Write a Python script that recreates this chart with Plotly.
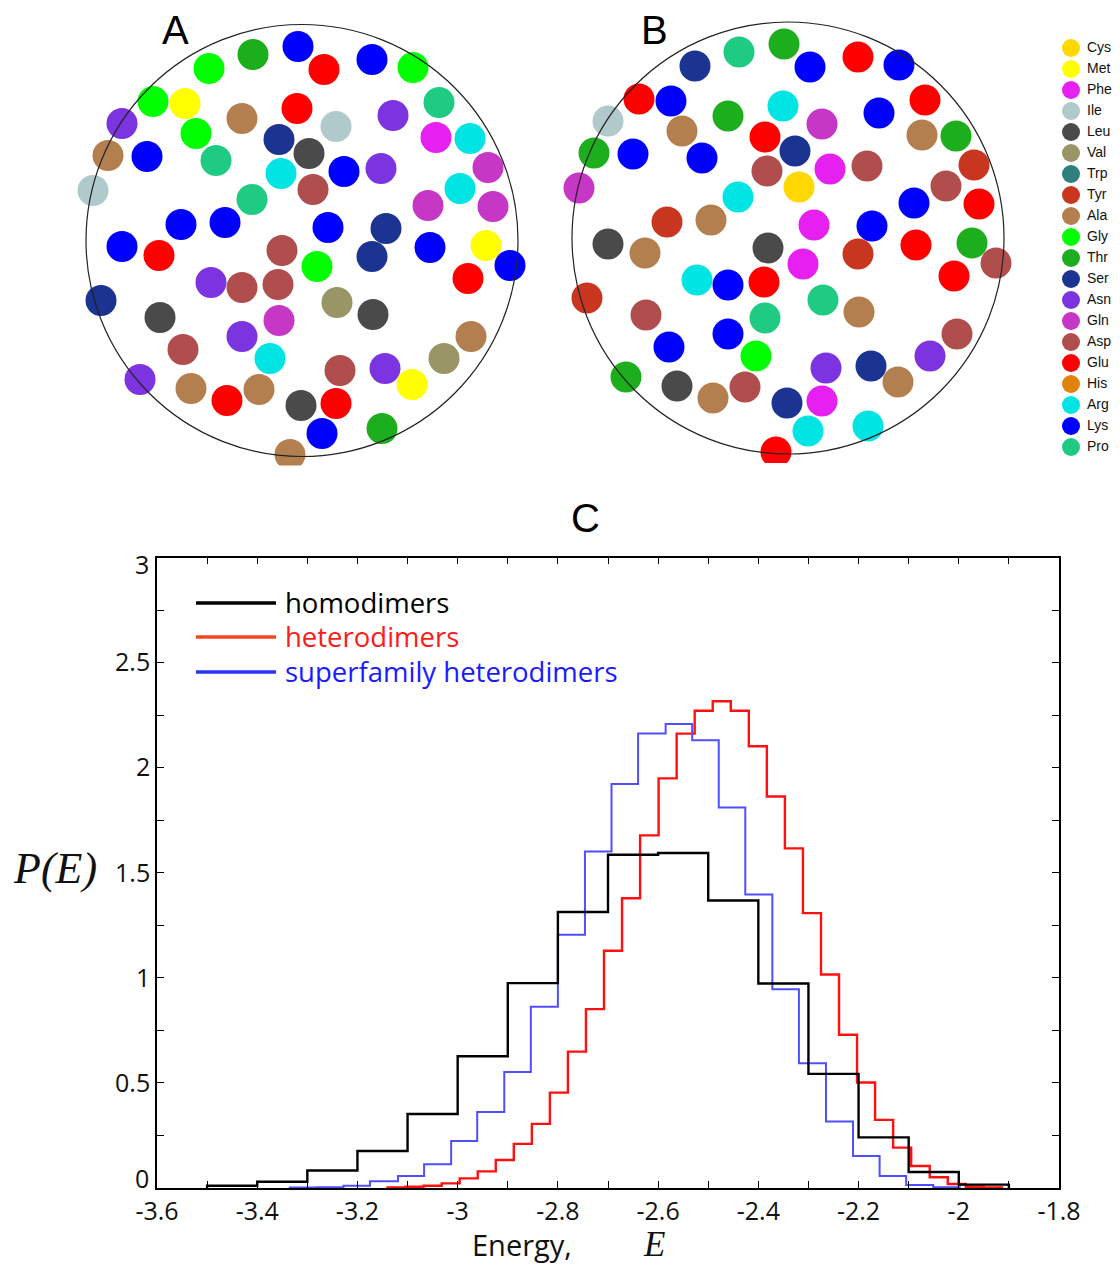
import plotly.graph_objects as go

W, H = 1120, 1279

# ---------------- Data ----------------
# Residue positions on the interface patch (shared by A and B), relative to patch centre
pos_x = [-93, -49, -4, 22, 70, 111, -149, -117, -180, -60, -5, 34, 91, 137, -106, -194, -155, -86, -23, 7,
         134, 168, -209, -21, 11, 42, 79, 186, 158, -50, 126, 191, -121, -77, 26, 84, -180, -143, -20, 15,
         70, 128, 184, 208, 166, -91, -60, -24, -201, 35, -142, 71, -23, -119, -60, -32, 169, 142, 38, 83,
         110, -162, -111, -75, -43, -1, 34, 20, 80, -12]
pos_y = [172, 186, 194, 171, 181, 173, 139, 137, 117, 122, 132, 114, 125, 138, 107, 85, 84, 80, 101, 87,
         103, 102, 50, 67, 51, 69, 72, 73, 52, 41, 35, 34, 16, 18, 13, 12, -6, -15, -10, -26,
         -16, -7, -5, -25, -38, -42, -47, -44, -60, -62, -77, -74, -80, -109, -96, -118, -96, -118, -130, -128,
         -144, -139, -148, -160, -149, -165, -163, -193, -188, -214]
residues_A = ["Gly", "Thr", "Lys", "Glu", "Lys", "Gly", "Gly", "Met", "Asn", "Ala", "Glu", "Ile", "Asn", "Pro",
              "Gly", "Ala", "Lys", "Pro", "Ser", "Leu", "Phe", "Arg", "Ile", "Arg", "Asp", "Lys", "Asn", "Gln",
              "Arg", "Pro", "Gln", "Gln", "Lys", "Lys", "Lys", "Ser", "Lys", "Glu", "Asp", "Gly", "Ser", "Lys",
              "Met", "Lys", "Glu", "Asn", "Asp", "Asp", "Ser", "Val", "Leu", "Leu", "Gln", "Asp", "Asn", "Arg",
              "Ala", "Val", "Asp", "Asn", "Met", "Asn", "Ala", "Glu", "Ala", "Leu", "Glu", "Lys", "Thr", "Ala"]
residues_B = ["Ser", "Pro", "Thr", "Lys", "Glu", "Lys", "Glu", "Lys", "Ile", "Thr", "Arg", "Gln", "Lys", "Glu",
              "Ala", "Thr", "Lys", "Lys", "Glu", "Ser", "Ala", "Thr", "Gln", "Asp", "Cys", "Phe", "Asp", "Tyr",
              "Asp", "Arg", "Lys", "Glu", "Tyr", "Ala", "Phe", "Lys", "Leu", "Ala", "Leu", "Phe", "Tyr", "Glu",
              "Thr", "Asp", "Glu", "Arg", "Lys", "Glu", "Tyr", "Pro", "Asp", "Ala", "Pro", "Lys", "Lys", "Gly",
              "Asp", "Asn", "Asn", "Ser", "Ala", "Thr", "Leu", "Ala", "Asp", "Ser", "Phe", "Arg", "Arg", "Glu"]
patch_radius = 216

legend_residues = ["Cys", "Met", "Phe", "Ile", "Leu", "Val", "Trp", "Tyr", "Ala", "Gly",
                   "Thr", "Ser", "Asn", "Gln", "Asp", "Glu", "His", "Arg", "Lys", "Pro"]

# Histograms P(E): bin edges and densities
homo_edges = [-3.5, -3.4, -3.3, -3.2, -3.1, -3.0, -2.9, -2.8, -2.7, -2.6, -2.5, -2.4, -2.3, -2.2, -2.1, -2.0, -1.9]
homo_p = [0.011, 0.030, 0.083, 0.176, 0.352, 0.627, 0.975, 1.313, 1.586, 1.594, 1.368, 0.973, 0.543, 0.241, 0.076, 0.016]

hetero_edges = [-3.140, -3.104, -3.068, -3.032, -2.996, -2.960, -2.924, -2.888, -2.852, -2.816, -2.780, -2.744,
                -2.708, -2.672, -2.636, -2.599, -2.563, -2.527, -2.491, -2.455, -2.419, -2.383, -2.347, -2.311,
                -2.275, -2.239, -2.203, -2.167, -2.131, -2.095, -2.058, -2.022, -1.986, -1.950, -1.914]
hetero_p = [0.003, 0.006, 0.011, 0.022, 0.046, 0.079, 0.133, 0.210, 0.305, 0.454, 0.649, 0.851, 1.129, 1.379,
            1.678, 1.949, 2.162, 2.271, 2.316, 2.271, 2.102, 1.863, 1.616, 1.308, 1.016, 0.729, 0.502, 0.324,
            0.192, 0.105, 0.051, 0.019, 0.006, 0.003]

super_edges = [-3.335, -3.282, -3.228, -3.175, -3.119, -3.067, -3.013, -2.961, -2.907, -2.854, -2.800, -2.746,
               -2.693, -2.640, -2.585, -2.532, -2.479, -2.426, -2.372, -2.319, -2.265, -2.211, -2.158, -2.105,
               -2.051, -1.998]
super_p = [0.002, 0.004, 0.011, 0.032, 0.057, 0.113, 0.224, 0.362, 0.552, 0.863, 1.205, 1.601, 1.922, 2.162,
           2.208, 2.130, 1.810, 1.396, 0.946, 0.594, 0.316, 0.152, 0.057, 0.014, 0.003]

series_names = ["homodimers", "heterodimers", "superfamily heterodimers"]

x_tick_vals = [-3.6, -3.4, -3.2, -3.0, -2.8, -2.6, -2.4, -2.2, -2.0, -1.8]
x_tick_text = ["-3.6", "-3.4", "-3.2", "-3", "-2.8", "-2.6", "-2.4", "-2.2", "-2", "-1.8"]
y_tick_vals = [0, 0.5, 1, 1.5, 2, 2.5, 3]
y_tick_text = ["0", "0.5", "1", "1.5", "2", "2.5", "3"]

# ---------------- Styles ----------------
res_colors = {
    "Cys": "#FFD800", "Met": "#FFFF00", "Phe": "#E620F0", "Ile": "#B0C9CA", "Leu": "#4A4A4A",
    "Val": "#9A9566", "Trp": "#2F7F7F", "Tyr": "#C9361F", "Ala": "#B47F4E", "Gly": "#00FF00",
    "Thr": "#1DAE1D", "Ser": "#1B3391", "Asn": "#7C33E0", "Gln": "#C637C6", "Asp": "#B04E4E",
    "Glu": "#FF0000", "His": "#E0820E", "Arg": "#00E4E4", "Lys": "#0000FF", "Pro": "#1FCB82",
}


def dom_x(p0, p1):
    return [p0 / W, p1 / W]


def dom_y(top, bottom):
    return [1 - bottom / H, 1 - top / H]


fig = go.Figure()

# Panels A and B: 1 data unit = 1 px
panelA = dict(cx=302, cy=240.5)
panelB = dict(cx=788, cy=238)
half_w, half_h = 235, 225

for k, (pan, res) in enumerate([(panelA, residues_A), (panelB, residues_B)], start=1):
    xa = "x" if k == 1 else "x2"
    ya = "y" if k == 1 else "y2"
    fig.add_trace(go.Scatter(
        x=pos_x, y=pos_y, mode="markers", xaxis=xa, yaxis=ya, showlegend=False,
        marker=dict(size=31, color=[res_colors[r] for r in res], line=dict(width=0)),
        hovertext=res, hoverinfo="text"))
    fig.add_shape(type="circle", xref=xa, yref=ya, x0=-patch_radius, x1=patch_radius,
                  y0=-patch_radius, y1=patch_radius, line=dict(color="#222222", width=1.2), layer="above")

hidden = dict(visible=False, automargin=False, fixedrange=True)
fig.update_layout(
    xaxis=dict(domain=dom_x(panelA["cx"] - half_w, panelA["cx"] + half_w), range=[-half_w, half_w], **hidden),
    yaxis=dict(domain=dom_y(panelA["cy"] - half_h, panelA["cy"] + half_h), range=[-half_h, half_h], **hidden),
    xaxis2=dict(domain=dom_x(panelB["cx"] - half_w, panelB["cx"] + half_w), range=[-half_w, half_w], **hidden),
    yaxis2=dict(domain=dom_y(panelB["cy"] - half_h, panelB["cy"] + half_h), range=[-half_h, half_h], **hidden),
)

# Residue colour legend (x axis: 1 unit = 1 px, marker centre at 0)
leg_idx = list(range(len(legend_residues)))
fig.add_trace(go.Scatter(
    x=[0] * len(legend_residues), y=leg_idx, mode="markers",
    xaxis="x4", yaxis="y4", showlegend=False,
    marker=dict(size=18, color=[res_colors[r] for r in legend_residues], line=dict(width=0)),
    hoverinfo="skip"))
fig.add_trace(go.Scatter(
    x=[16] * len(legend_residues), y=leg_idx, mode="text",
    xaxis="x4", yaxis="y4", showlegend=False,
    text=legend_residues, textposition="middle right",
    textfont=dict(family="Liberation Sans, Arial", size=14, color="#111111"), hoverinfo="skip"))
fig.update_layout(
    xaxis4=dict(domain=dom_x(1062, 1120), range=[-9, 49], **hidden),
    yaxis4=dict(domain=dom_y(37.5, 457.5), range=[19.5, -0.5], **hidden),
)


# Panel C histograms
def step_xy(edges, p):
    xs = [edges[0]] + list(edges)
    ys = [0] + list(p) + [0]
    return xs, ys


hist_styles = [
    (hetero_edges, hetero_p, "#FF1010", 2.4),
    (super_edges, super_p, "#4F4FFF", 2.0),
    (homo_edges, homo_p, "#000000", 2.4),
]
for edges, p, col, lw in hist_styles:
    xs, ys = step_xy(edges, p)
    fig.add_trace(go.Scatter(x=xs, y=ys, mode="lines", line=dict(color=col, width=lw, shape="hv"),
                             xaxis="x3", yaxis="y3", showlegend=False))

tickfont = dict(family="Open Sans", size=25, color="#111111")
fig.update_layout(
    xaxis3=dict(domain=dom_x(157, 1059), range=[-3.6, -1.8], tickmode="array",
                tickvals=x_tick_vals, ticktext=x_tick_text, tickangle=0,
                ticks="inside", ticklen=7, tickwidth=1.2, tickcolor="black",
                minor=dict(dtick=0.1, tick0=-3.6, ticks="inside", ticklen=7, tickwidth=1.2, tickcolor="black"),
                showline=True, linecolor="black", linewidth=1.6, mirror="ticks", automargin=False,
                showgrid=False, zeroline=False, tickfont=tickfont, anchor="y3", fixedrange=True),
    # interior labels on the axis; the end labels are nudged inward like the original
    yaxis3=dict(domain=dom_y(557.5, 1188), range=[0, 3], tickmode="array",
                tickvals=y_tick_vals[1:-1], ticktext=y_tick_text[1:-1],
                ticks="inside", ticklen=7, tickwidth=1.2, tickcolor="black",
                minor=dict(dtick=0.25, tick0=0, ticks="inside", ticklen=7, tickwidth=1.2, tickcolor="black"),
                showline=True, linecolor="black", linewidth=1.6, mirror="ticks", automargin=False,
                showgrid=False, zeroline=False, tickfont=tickfont, anchor="x3", fixedrange=True),
)
for val, txt, shift in [(y_tick_vals[0], y_tick_text[0], 10), (y_tick_vals[-1], y_tick_text[-1], -6)]:
    fig.add_annotation(text=txt, xref="paper", yref="y3", x=151 / W, y=val, yshift=shift,
                       xanchor="right", yanchor="middle", showarrow=False, font=tickfont)

# Panel C legend (line samples + coloured labels)
leg_rows = [(603, "#000000", "#000000"), (637, "#FF4422", "#FF1A1A"), (672, "#2A35FF", "#1A1AFF")]
for name, (yy, lcol, tcol) in zip(series_names, leg_rows):
    fig.add_shape(type="line", xref="paper", yref="paper", x0=196 / W, x1=276 / W,
                  y0=1 - yy / H, y1=1 - yy / H, line=dict(color=lcol, width=3.5))
    fig.add_annotation(text=name, xref="paper", yref="paper", x=283 / W, y=1 - (yy - 1) / H,
                       xanchor="left", yanchor="middle", showarrow=False,
                       font=dict(family="Open Sans", size=27.5, color=tcol))

# Panel letters and axis titles
for letter, px, py in [("A", 175, 30), ("B", 654, 30), ("C", 585, 518)]:
    fig.add_annotation(text=letter, xref="paper", yref="paper", x=px / W, y=1 - py / H,
                       xanchor="center", yanchor="middle", showarrow=False,
                       font=dict(family="Liberation Sans, Arial", size=40, color="black"))

fig.add_annotation(text="Energy,", xref="paper", yref="paper", x=522 / W, y=1 - 1244 / H,
                   xanchor="center", yanchor="middle", showarrow=False,
                   font=dict(family="Open Sans", size=29, color="#111111"))
fig.add_annotation(text="<i>E</i>", xref="paper", yref="paper", x=654 / W, y=1 - 1244 / H,
                   xanchor="center", yanchor="middle", showarrow=False,
                   font=dict(family="Liberation Serif, Times New Roman", size=35, color="#111111"))
fig.add_annotation(text="<i>P(E)</i>", xref="paper", yref="paper", x=55 / W, y=1 - 868 / H,
                   xanchor="center", yanchor="middle", showarrow=False,
                   font=dict(family="Liberation Serif, Times New Roman", size=44, color="#111111"))

fig.update_layout(width=W, height=H, margin=dict(l=0, r=0, t=0, b=0, autoexpand=False),
                  paper_bgcolor="white", plot_bgcolor="rgba(0,0,0,0)", showlegend=False)

fig.write_html("out.html", config={"displayModeBar": False},
               post_script="document.body.style.margin='0px';")
